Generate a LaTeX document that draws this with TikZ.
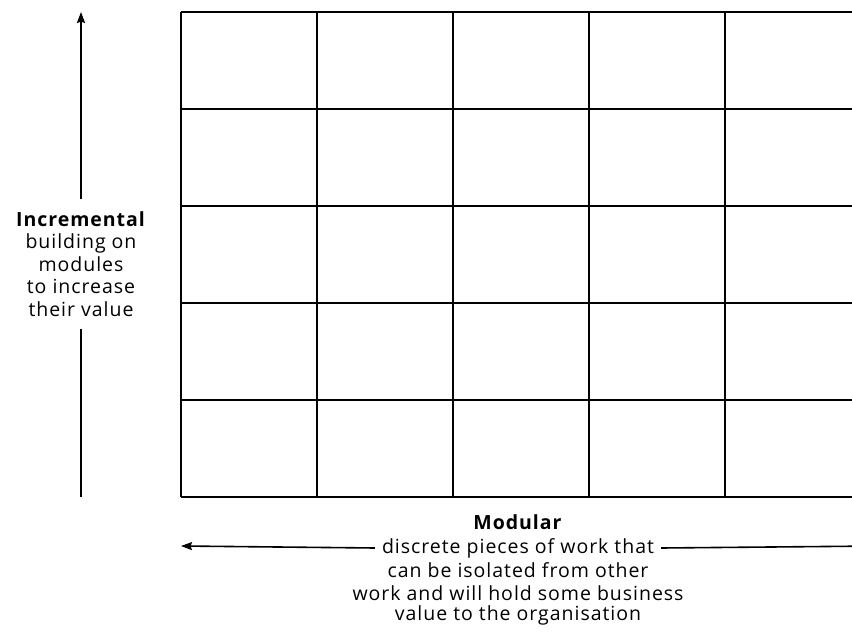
\documentclass[tikz,border=0pt]{standalone}
\usepackage{fontspec}
\setmainfont{Open Sans}[LetterSpace=5]
\usepackage{tikz}
\usetikzlibrary{arrows.meta}
\tikzstyle{Label}=[align=center, inner sep=0pt, font=\fontsize{19.5}{22.5}\selectfont]
\tikzstyle{Axis}=[line width=1.6pt, -{Stealth[length=11pt, width=8pt, inset=1.5pt]}]

\begin{document}
\begin{tikzpicture}[x=1pt, y=-1pt]
    \useasboundingbox (0,0) rectangle (852,642);
    \clip (0,0) rectangle (852,642);

    % grid of work pieces, runs off the right edge
    \foreach \row in {0,...,5}
        \draw[line width=1.6pt] (181,12+97*\row) -- (1000,12+97*\row);
    \foreach \col in {0,...,6}
        \draw[line width=1.6pt] (181+136*\col,12) -- (181+136*\col,497);

    \path
    (81,497) coordinate (vbottom)
    (81,12) coordinate (vtop)
    (181,546) coordinate (hleft)
    (880,546) coordinate (hright)
    (81,264) node[Label, inner ysep=12pt] (incr) {\textbf{Incremental}\\building on\\modules\\to increase\\their value}
    (518,522) node[Label] (modular) {\textbf{Modular}}
    (518,548) node[Label, inner xsep=7pt] (disc) {discrete pieces of work that}
    (518,570.5) node[Label] (isolated) {can be isolated from other}
    (518,593) node[Label] (business) {work and will hold some business}
    (518,615.5) node[Label] (value) {value to the organisation};

    \draw[Axis] (incr.north) -- (vtop);
    \draw[line width=1.6pt] (incr.south) -- (vbottom);
    \draw[Axis] (disc.west) -- (hleft);
    \draw[Axis] (disc.east) -- (hright);
\end{tikzpicture}
\end{document}
